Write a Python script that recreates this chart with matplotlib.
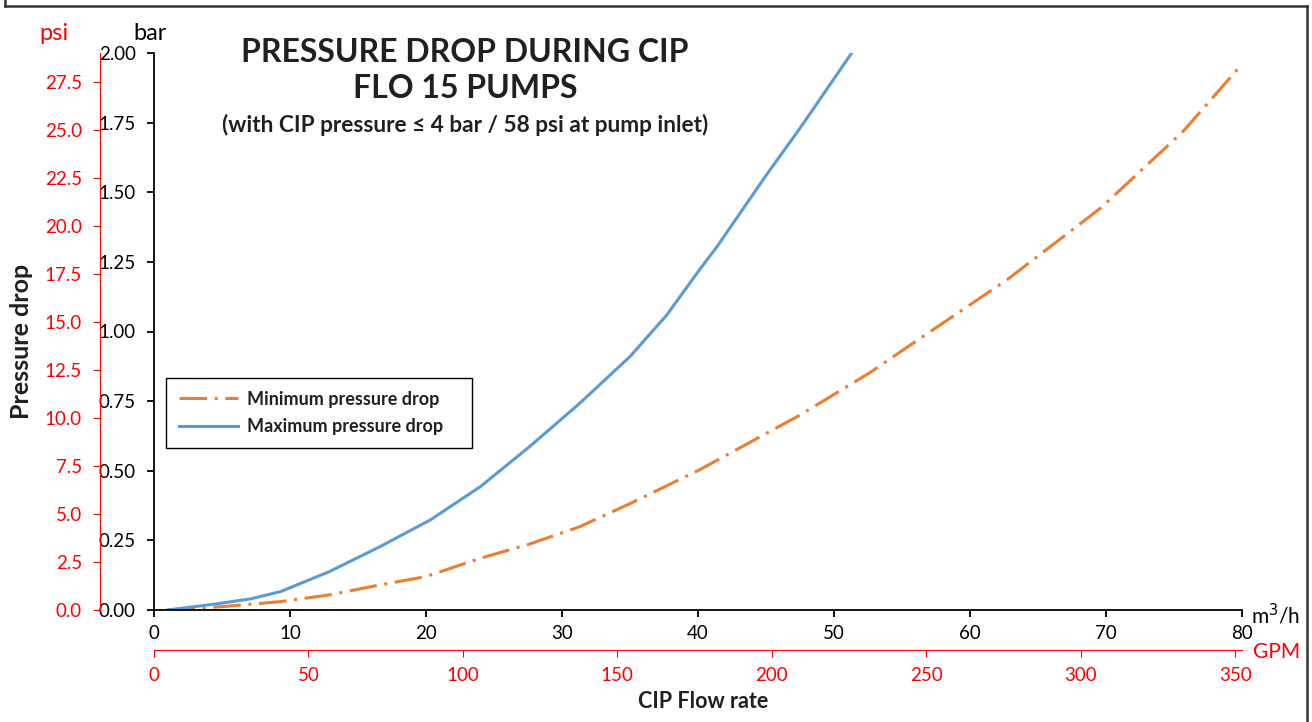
import matplotlib.pyplot as plt
from matplotlib.lines import Line2D

plt.rcParams['font.family'] = ['Lato', 'DejaVu Sans']

# Flow rate (m3/h) and pressure drop (bar)
flow_max = [1.0, 4.6, 7.1, 9.3, 12.9, 16.6, 20.3, 24.0, 27.6, 31.3, 35.0, 37.7, 40.1, 41.4, 45.0, 47.5, 51.3]
drop_max = [0.0, 0.022, 0.040, 0.066, 0.138, 0.227, 0.323, 0.443, 0.586, 0.742, 0.910, 1.059, 1.221, 1.305, 1.560, 1.730, 2.0]

flow_min = [1.0, 5.0, 9.3, 13.0, 16.6, 20.0, 24.0, 27.5, 31.3, 35.0, 40.1, 47.5, 52.6, 55.6, 62.7, 69.6, 75.7, 80.0]
drop_min = [0.0, 0.012, 0.030, 0.055, 0.090, 0.120, 0.186, 0.235, 0.299, 0.382, 0.503, 0.700, 0.851, 0.951, 1.185, 1.443, 1.720, 1.960]

bar_ticks = [0, 0.25, 0.5, 0.75, 1.0, 1.25, 1.5, 1.75, 2.0]
psi_ticks = [0, 2.5, 5, 7.5, 10, 12.5, 15, 17.5, 20, 22.5, 25, 27.5]
m3h_ticks = [0, 10, 20, 30, 40, 50, 60, 70, 80]
gpm_ticks = [0, 50, 100, 150, 200, 250, 300, 350]

PSI_PER_BAR = 14.5038
GPM_PER_M3H = 4.40287

orange = '#ED7D31'
blue = '#5B9BD5'
red = '#FF0000'
dark = '#231F20'
tick_fs = 13.5

fig = plt.figure(figsize=(13.12, 7.22), dpi=100)
ax = fig.add_axes([154 / 1312, 1 - 610 / 722, 1088 / 1312, 557 / 722])

line_min, = ax.plot(flow_min, drop_min, color=orange, lw=2.2, dash_capstyle='butt',
                    label='Minimum pressure drop')
line_min.set_dashes([9, 2.5, 1, 2.5])
ax.plot(flow_max, drop_max, color=blue, lw=2.2, label='Maximum pressure drop')

ax.set_xlim(0, 80)
ax.set_ylim(0, 2)
ax.set_xticks(m3h_ticks)
ax.set_yticks(bar_ticks)
ax.set_yticklabels([f'{t:.2f}' for t in bar_ticks])
for s in ['top', 'right']:
    ax.spines[s].set_visible(False)
ax.spines['left'].set_linewidth(1.3)
ax.spines['bottom'].set_linewidth(1.3)
ax.tick_params(axis='x', direction='out', length=5, width=1.3, pad=6, labelsize=tick_fs)
ax.tick_params(axis='y', direction='out', length=5, width=1.3, pad=8, labelsize=tick_fs)

# psi axis
ax_psi = ax.twinx()
ax_psi.set_ylim(0, 2 * PSI_PER_BAR)
ax_psi.yaxis.set_ticks_position('left')
ax_psi.yaxis.set_label_position('left')
for s in ['top', 'right', 'bottom']:
    ax_psi.spines[s].set_visible(False)
ax_psi.spines['left'].set_position(('outward', 54 * 0.72))
ax_psi.spines['left'].set_color(red)
ax_psi.set_yticks(psi_ticks)
ax_psi.set_yticklabels([f'{t:.1f}' for t in psi_ticks])
ax_psi.tick_params(axis='y', colors=red, direction='out', length=5, pad=8, labelsize=tick_fs)

# GPM axis
ax_gpm = ax.twiny()
ax_gpm.set_xlim(0, 80 * GPM_PER_M3H)
ax_gpm.xaxis.set_ticks_position('bottom')
ax_gpm.xaxis.set_label_position('bottom')
for s in ['top', 'right', 'left']:
    ax_gpm.spines[s].set_visible(False)
ax_gpm.spines['bottom'].set_position(('outward', 40 * 0.72))
ax_gpm.spines['bottom'].set_color(red)
ax_gpm.set_xticks(gpm_ticks)
ax_gpm.tick_params(axis='x', colors=red, direction='out', length=5, pad=7, labelsize=tick_fs)

leg = ax.legend(loc='upper left', bbox_to_anchor=(12 / 1088, (610 - 447) / 557, 306 / 1088, 69 / 557),
                mode='expand', handlelength=3.3,
                prop={'weight': 'bold', 'size': 13}, fancybox=False, framealpha=1,
                edgecolor='black', borderpad=0.7, labelspacing=0.6, handletextpad=0.5,
                borderaxespad=0)
leg.get_frame().set_linewidth(1.0)
for t in leg.get_texts():
    t.set_color(dark)

# titles and axis texts
fig.text(465 / 1312, 1 - 62 / 722, 'PRESSURE DROP DURING CIP', ha='center', va='baseline',
         fontsize=23, fontweight='bold', color=dark)
fig.text(465 / 1312, 1 - 98 / 722, 'FLO 15 PUMPS', ha='center', va='baseline',
         fontsize=23, fontweight='bold', color=dark)
fig.text(465 / 1312, 1 - 132 / 722, '(with CIP pressure ≤ 4 bar / 58 psi at pump inlet)',
         ha='center', va='baseline', fontsize=16.3, fontweight='bold', color=dark)

fig.text(22 / 1312, 1 - 341 / 722, 'Pressure drop', rotation=90, ha='center', va='center',
         fontsize=18, fontweight='bold', color=dark)
fig.text(703 / 1312, 1 - 701 / 722, 'CIP Flow rate', ha='center', va='center',
         fontsize=15.5, fontweight='bold', color=dark)
fig.text(54 / 1312, 1 - 33 / 722, 'psi', ha='center', va='center', fontsize=17, color=red)
fig.text(150 / 1312, 1 - 33 / 722, 'bar', ha='center', va='center', fontsize=17, color='black')
fig.text(1251 / 1312, 1 - 624 / 722, 'm$^3$/h', ha='left', va='baseline', fontsize=15, color='black')
fig.text(1253 / 1312, 1 - 652 / 722, 'GPM', ha='left', va='center', fontsize=15, color=red)

# outer frame
for xs, ys in [([5, 5], [-5, 6]), ([5, 1307], [6, 6]), ([1307, 1307], [6, 730])]:
    fig.add_artist(Line2D([x / 1312 for x in xs], [1 - y / 722 for y in ys],
                          color='#333333', lw=1.8, transform=fig.transFigure))

fig.savefig('out.png', dpi=100)
